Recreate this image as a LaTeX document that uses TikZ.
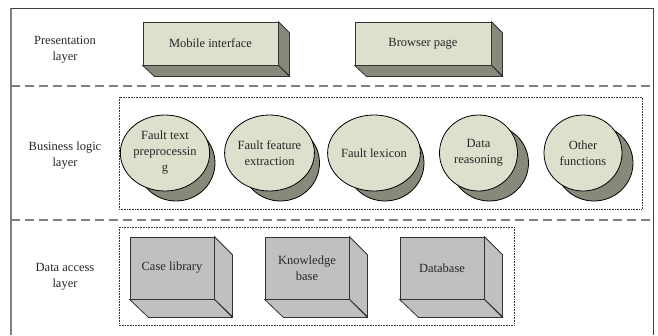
\documentclass[tikz,border=0pt]{standalone}
\usepackage{fontspec}
\setmainfont{Liberation Serif}
\usetikzlibrary{shapes.geometric}

\definecolor{facelight}{RGB}{221,224,204}
\definecolor{facedark}{RGB}{135,138,123}
\definecolor{boxgray}{RGB}{192,192,192}
\definecolor{framegray}{RGB}{128,128,128}

\begin{document}
\begin{tikzpicture}[x=1pt, y=-1pt,
  txt/.style={font=\fontsize{12.5}{16}\selectfont, align=center, text=black!85},
  sep/.style={framegray, line width=1.4pt, dash pattern=on 9pt off 5pt},
  group/.style={black!80, line width=0.6pt, densely dotted},
  uibox/.style={txt, draw=black!80, line width=0.8pt, fill=facelight, minimum width=135pt, minimum height=43pt, inner sep=0pt},
  uiside/.style={draw=black!80, line width=0.8pt, fill=facedark},
  dbbox/.style={txt, draw=black!80, line width=0.8pt, fill=boxgray, minimum width=84pt, minimum height=62pt, inner sep=0pt},
  dbside/.style={draw=black!80, line width=0.8pt, fill=boxgray},
  func/.style={txt, ellipse, draw=black, line width=0.8pt, fill=facelight, minimum width=78pt, minimum height=76pt, inner sep=0pt},
  funcshadow/.style={draw=black, line width=0.8pt, fill=facedark}]

\useasboundingbox (0,0) rectangle (658,335);

%------------------ FRAME AND LAYERS ------------------%
\draw[framegray, line width=1.6pt] (11,335) -- (11,8);
\draw[black!75, line width=1pt] (11,8) -- (653,8) -- (653,335);

\draw[sep] (11,86) -- (653,86);
\draw[sep] (11,220) -- (653,220);

\node[txt] (presLbl) at (65,50) {Presentation\\layer};
\node[txt] (busLbl) at (65,156) {Business logic\\layer};
\node[txt] (dataLbl) at (65,277) {Data access\\layer};

%------------------ PRESENTATION LAYER ------------------%
\node[uibox] (mobile) at (210.5,43.5) {Mobile interface};
\draw[uiside] (mobile.north east) -- ++(11,11) -- ++(0,43) -- (mobile.south east) -- cycle;
\draw[uiside] (mobile.south east) -- ++(11,11) -- ++(-135,0) -- (mobile.south west) -- cycle;

\node[uibox, minimum width=136pt] (browser) at (423,43.5) {Browser page};
\draw[uiside] (browser.north east) -- ++(11,11) -- ++(0,43) -- (browser.south east) -- cycle;
\draw[uiside] (browser.south east) -- ++(11,11) -- ++(-136,0) -- (browser.south west) -- cycle;

%------------------ BUSINESS LOGIC LAYER ------------------%
\draw[group] (119,97) rectangle (642,209);

% shadows first, faces on top
\draw[funcshadow] (176,163) ellipse [x radius=39, y radius=38];
\draw[funcshadow] (280.5,163) ellipse [x radius=39, y radius=38];
\draw[funcshadow] (385,163) ellipse [x radius=39, y radius=38];
\draw[funcshadow] (489.5,163) ellipse [x radius=39, y radius=38];
\draw[funcshadow] (594,163) ellipse [x radius=39, y radius=38];

\node[func] (preproc) at (165,153) {Fault text\\preprocessin\\g};
\node[func] (feature) at (269.5,153) {Fault feature\\extraction};
\node[func] (lexicon) at (374,153) {Fault lexicon};
\node[func] (reason) at (478.5,153) {Data\\reasoning};
\node[func] (other) at (583,153) {Other\\functions};

%------------------ DATA ACCESS LAYER ------------------%
\draw[group] (119,227) rectangle (514,325);

\node[dbbox] (caselib) at (172,268) {Case library};
\draw[dbside] (caselib.north east) -- ++(18,18) -- ++(0,62) -- (caselib.south east) -- cycle;
\draw[dbside] (caselib.south east) -- ++(18,18) -- ++(-84,0) -- (caselib.south west) -- cycle;

\node[dbbox] (knowbase) at (307,268) {Knowledge\\base};
\draw[dbside] (knowbase.north east) -- ++(18,18) -- ++(0,62) -- (knowbase.south east) -- cycle;
\draw[dbside] (knowbase.south east) -- ++(18,18) -- ++(-84,0) -- (knowbase.south west) -- cycle;

\node[dbbox] (database) at (442,268) {Database};
\draw[dbside] (database.north east) -- ++(18,18) -- ++(0,62) -- (database.south east) -- cycle;
\draw[dbside] (database.south east) -- ++(18,18) -- ++(-84,0) -- (database.south west) -- cycle;

\end{tikzpicture}
\end{document}
